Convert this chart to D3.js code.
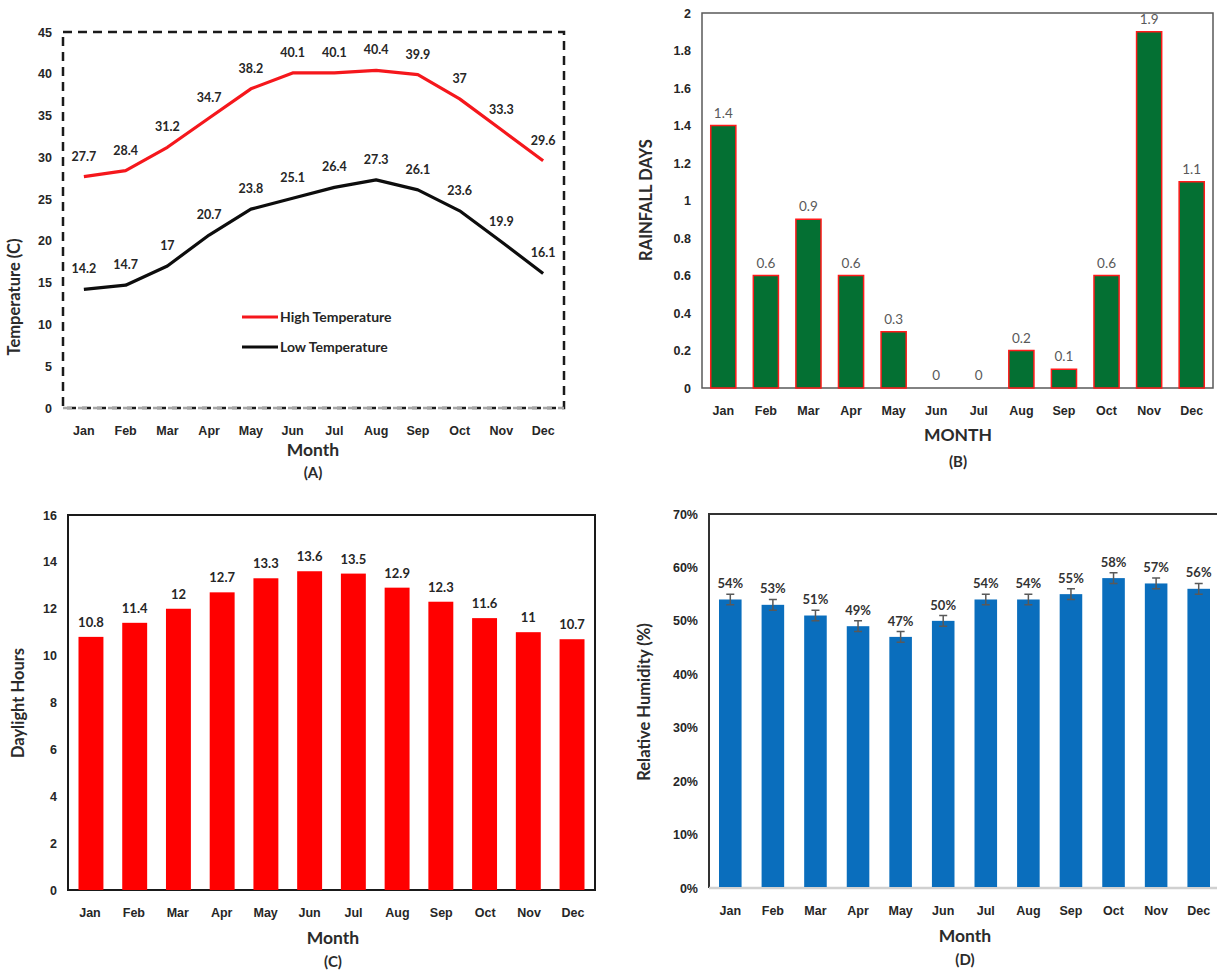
<!DOCTYPE html>
<html>
<head>
<meta charset="utf-8">
<script src="https://cdn.jsdelivr.net/npm/d3@7"></script>
<style>
  body { margin: 0; background: #fff; }
  svg { font-family: Lato, "Open Sans", sans-serif; }
</style>
</head>
<body>
<svg width="1217" height="974"></svg>
<script>
// data
const months = ["Jan","Feb","Mar","Apr","May","Jun","Jul","Aug","Sep","Oct","Nov","Dec"];
const highTemp = [27.7,28.4,31.2,34.7,38.2,40.1,40.1,40.4,39.9,37,33.3,29.6];
const lowTemp = [14.2,14.7,17,20.7,23.8,25.1,26.4,27.3,26.1,23.6,19.9,16.1];
const rainDays = [1.4,0.6,0.9,0.6,0.3,0,0,0.2,0.1,0.6,1.9,1.1];
const daylight = [10.8,11.4,12,12.7,13.3,13.6,13.5,12.9,12.3,11.6,11,10.7];
const humidity = [0.54,0.53,0.51,0.49,0.47,0.50,0.54,0.54,0.55,0.58,0.57,0.56];
const humidityErr = [0.01,0.01,0.01,0.01,0.01,0.01,0.01,0.01,0.01,0.01,0.01,0.01];

const svg = d3.select("svg");

// common bits for every panel
function panel(box, yDomain, yTicks, yFmt) {
  const x = d3.scaleBand().domain(months).range([box.x0, box.x1]);
  const y = d3.scaleLinear().domain(yDomain).range([box.y1, box.y0]);
  const g = svg.append("g");

  g.append("g")
      .attr("transform", `translate(${box.x0 - 8},0)`)
      .call(d3.axisLeft(y).tickValues(yTicks).tickSize(0).tickFormat(yFmt))
      .call(a => a.select(".domain").remove())
      .selectAll("text")
        .style("font-size", "12.5px").style("font-weight", "bold").attr("fill", "#262626");

  g.append("g")
      .attr("transform", `translate(0,${box.y1 + 15})`)
      .call(d3.axisBottom(x).tickSize(0))
      .call(a => a.select(".domain").remove())
      .selectAll("text")
        .style("font-size", "12.5px").style("font-weight", "bold").attr("fill", "#262626");

  return { x, y, g };
}

function titles(g, box, yTitle, xTitle, tag) {
  g.append("text")
      .attr("transform", `translate(${box.yt},${box.yc}) rotate(-90)`)
      .attr("text-anchor", "middle")
      .style("font-size", "16.5px").style("font-weight", "bold").attr("fill", "#2b2b2b")
      .text(yTitle);
  g.append("text")
      .attr("x", box.xt).attr("y", box.y1 + box.t1)
      .attr("text-anchor", "middle")
      .style("font-size", "17.5px").style("font-weight", "bold").attr("fill", "#2b2b2b")
      .text(xTitle);
  g.append("text")
      .attr("x", box.xt).attr("y", box.y1 + box.t2)
      .attr("text-anchor", "middle")
      .style("font-size", "15px").style("font-weight", "bold").attr("fill", "#2b2b2b")
      .text(tag);
}

// ---------- (A) temperature lines ----------
const boxA = { x0: 63, x1: 564, y0: 32, y1: 408, yt: 20, yc: 297, xt: 313, t1: 48, t2: 70 };
const A = panel(boxA, [0, 45], d3.range(0, 46, 5), d3.format("d"));

A.g.append("rect")
    .attr("x", boxA.x0).attr("y", boxA.y0)
    .attr("width", boxA.x1 - boxA.x0).attr("height", boxA.y1 - boxA.y0)
    .attr("fill", "none").attr("stroke", "#1a1a1a")
    .attr("stroke-width", 2.5).attr("stroke-dasharray", "9,6");
A.g.append("line")
    .attr("x1", boxA.x0).attr("x2", boxA.x1)
    .attr("y1", boxA.y1).attr("y2", boxA.y1)
    .attr("stroke", "#a6a6a6").attr("stroke-width", 2.5).attr("stroke-dasharray", "9,6");

const cxA = (d, i) => A.x(months[i]) + A.x.bandwidth() / 2;
const lineA = d3.line().x(cxA).y(d => A.y(d));

const series = [
  { name: "High Temperature", vals: highTemp, color: "#f5171c" },
  { name: "Low Temperature", vals: lowTemp, color: "#0d0d0d" }
];

series.forEach((s, k) => {
  A.g.append("path")
      .datum(s.vals)
      .attr("d", lineA)
      .attr("fill", "none").attr("stroke", s.color)
      .attr("stroke-width", 3.2).attr("stroke-linejoin", "round");

  A.g.selectAll(null)
      .data(s.vals)
      .join("text")
        .attr("x", cxA)
        .attr("y", d => A.y(d) - 16)
        .attr("text-anchor", "middle")
        .style("font-size", "12.5px").style("font-weight", "bold").attr("fill", "#262626")
        .text(d => d);

  // legend
  const ly = 317 + k * 30;
  A.g.append("line")
      .attr("x1", 242).attr("x2", 278).attr("y1", ly).attr("y2", ly)
      .attr("stroke", s.color).attr("stroke-width", 3.2);
  A.g.append("text")
      .attr("x", 280).attr("y", ly + 5)
      .style("font-size", "14px").style("font-weight", "bold").attr("fill", "#262626")
      .text(s.name);
});

titles(A.g, boxA, "Temperature (C)", "Month", "(A)");

// ---------- (B) rainfall days ----------
const boxB = { x0: 702, x1: 1213, y0: 13, y1: 388, yt: 652, yc: 200, xt: 958, t1: 53, t2: 79 };
const B = panel(boxB, [0, 2], d3.range(0, 2.01, 0.2), d => +d.toFixed(1));
B.x.paddingInner(0.41).paddingOuter(0.205);

B.g.append("rect")
    .attr("x", boxB.x0).attr("y", boxB.y0)
    .attr("width", boxB.x1 - boxB.x0).attr("height", boxB.y1 - boxB.y0)
    .attr("fill", "none").attr("stroke", "#595959").attr("stroke-width", 1.5);

B.g.selectAll(null)
    .data(rainDays)
    .join("rect")
      .attr("x", (d, i) => B.x(months[i]))
      .attr("y", d => B.y(d))
      .attr("width", B.x.bandwidth())
      .attr("height", d => B.y(0) - B.y(d))
      .attr("fill", d => d > 0 ? "#047033" : "none")
      .attr("stroke", d => d > 0 ? "#ff1a1a" : "none").attr("stroke-width", 1.5);

B.g.selectAll(null)
    .data(rainDays)
    .join("text")
      .attr("x", (d, i) => B.x(months[i]) + B.x.bandwidth() / 2)
      .attr("y", d => B.y(d) - 8)
      .attr("text-anchor", "middle")
      .style("font-size", "13.5px").attr("fill", "#595959")
      .text(d => d);

titles(B.g, boxB, "RAINFALL DAYS", "MONTH", "(B)");

// ---------- (C) daylight hours ----------
const boxC = { x0: 68, x1: 595, y0: 515, y1: 890, yt: 24, yc: 703, xt: 333, t1: 54, t2: 77 };
const C = panel(boxC, [0, 16], d3.range(0, 17, 2), d3.format("d"));
C.x.paddingInner(0.43).paddingOuter(0.24);

C.g.append("rect")
    .attr("x", boxC.x0).attr("y", boxC.y0)
    .attr("width", boxC.x1 - boxC.x0).attr("height", boxC.y1 - boxC.y0)
    .attr("fill", "none").attr("stroke", "#1a1a1a").attr("stroke-width", 2);

C.g.selectAll(null)
    .data(daylight)
    .join("rect")
      .attr("x", (d, i) => C.x(months[i]))
      .attr("y", d => C.y(d))
      .attr("width", C.x.bandwidth())
      .attr("height", d => C.y(0) - C.y(d))
      .attr("fill", "#ff0000");

C.g.selectAll(null)
    .data(daylight)
    .join("text")
      .attr("x", (d, i) => C.x(months[i]) + C.x.bandwidth() / 2)
      .attr("y", d => C.y(d) - 10)
      .attr("text-anchor", "middle")
      .style("font-size", "13px").style("font-weight", "bold").attr("fill", "#262626")
      .text(d => d);

titles(C.g, boxC, "Daylight Hours", "Month", "(C)");

// ---------- (D) relative humidity ----------
const boxD = { x0: 709, x1: 1220, y0: 514, y1: 888, yt: 650, yc: 702, xt: 965, t1: 54, t2: 77 };
const D = panel(boxD, [0, 0.7], d3.range(0, 0.71, 0.1), d3.format(".0%"));
D.x.paddingInner(0.47).paddingOuter(0.235);

D.g.append("path")
    .attr("d", `M${boxD.x0},${boxD.y1}V${boxD.y0}H${boxD.x1}`)
    .attr("fill", "none").attr("stroke", "#333").attr("stroke-width", 2);
D.g.append("line")
    .attr("x1", boxD.x0).attr("x2", boxD.x1)
    .attr("y1", boxD.y1).attr("y2", boxD.y1)
    .attr("stroke", "#d0d0d0").attr("stroke-width", 2.5);

D.g.selectAll(null)
    .data(humidity)
    .join("rect")
      .attr("x", (d, i) => D.x(months[i]))
      .attr("y", d => D.y(d))
      .attr("width", D.x.bandwidth())
      .attr("height", d => D.y(0) - D.y(d) - 1)
      .attr("fill", "#0a6ebd");

// error bars
const cxD = (d, i) => D.x(months[i]) + D.x.bandwidth() / 2;
D.g.selectAll(null)
    .data(humidity)
    .join("path")
      .attr("d", (d, i) => {
        const cx = cxD(d, i), t = D.y(d + humidityErr[i]), b = D.y(d - humidityErr[i]);
        return `M${cx - 4},${t}H${cx + 4}M${cx},${t}V${b}M${cx - 4},${b}H${cx + 4}`;
      })
      .attr("fill", "none").attr("stroke", "#595959").attr("stroke-width", 1.5);

D.g.selectAll(null)
    .data(humidity)
    .join("text")
      .attr("x", cxD)
      .attr("y", (d, i) => D.y(d + humidityErr[i]) - 6)
      .attr("text-anchor", "middle")
      .style("font-size", "13px").style("font-weight", "bold").attr("fill", "#333")
      .text(d => d3.format(".0%")(d));

titles(D.g, boxD, "Relative Humidity (%)", "Month", "(D)");
</script>
</body>
</html>
